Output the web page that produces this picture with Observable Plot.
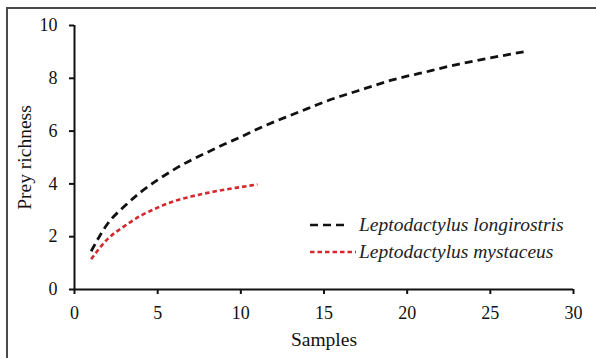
<!DOCTYPE html>
<html>
<head>
<meta charset="utf-8">
<script src="https://cdn.jsdelivr.net/npm/d3@7"></script>
<script src="https://cdn.jsdelivr.net/npm/@observablehq/plot@0.6"></script>
<style>
  html, body { margin: 0; padding: 0; background: #fff; }
  #wrap { position: relative; width: 596px; height: 358px; overflow: hidden; background: #fff; }
  #frame { position: absolute; left: 6px; top: 7px; right: -10px; bottom: -10px;
           border-left: 2px solid #4a4a4a; border-top: 2px solid #4a4a4a; pointer-events: none; }
  #legend { position: absolute; left: 309px; top: 211px; font-family: "Liberation Serif", "Times New Roman", serif;
            font-style: italic; font-size: 19.5px; color: #222; }
  #legend .row { display: flex; align-items: center; height: 27px; }
  #legend svg { margin-right: 3px; }
</style>
</head>
<body>
<div id="wrap">
  <div id="chart"></div>
  <div id="legend"></div>
  <div id="frame"></div>
</div>
<script>
// ---- data ----
const seriesNames = ["Leptodactylus longirostris", "Leptodactylus mystaceus"];
const seriesColors = ["#111111", "#d42a2f"];
const seriesDash = ["8,5", "4.5,3"];
const longirostrisSamples = [1,2,3,4,5,6,7,8,9,10,11,12,13,14,15,16,17,18,19,20,21,22,23,24,25,26,27];
const longirostrisRichness = [1.45,2.5,3.15,3.7,4.15,4.55,4.9,5.2,5.5,5.78,6.08,6.35,6.6,6.85,7.1,7.32,7.52,7.72,7.92,8.08,8.22,8.38,8.52,8.65,8.77,8.89,9.0];
const mystaceusSamples = [1,2,3,4,5,6,7,8,9,10,11];
const mystaceusRichness = [1.15,1.92,2.4,2.8,3.1,3.35,3.52,3.66,3.78,3.88,3.98];
const xTicks = [0,5,10,15,20,25,30];
const yTicks = [0,2,4,6,8,10];
const xLabel = "Samples";
const yLabel = "Prey richness";

const black = longirostrisSamples.map((s, i) => ({x: s, y: longirostrisRichness[i]}));
const red = mystaceusSamples.map((s, i) => ({x: s, y: mystaceusRichness[i]}));

const chart = Plot.plot({
  width: 596,
  height: 358,
  marginLeft: 74,
  marginRight: 23,
  marginTop: 25,
  marginBottom: 69,
  x: {domain: [0, 30]},
  y: {domain: [0, 10]},
  style: {fontFamily: "Liberation Serif, Times New Roman, serif", fontSize: "18px", color: "#111", background: "transparent"},
  marks: [
    Plot.axisX({ticks: xTicks, tickSize: 5, tickPadding: 12, strokeWidth: 2, label: null, fontSize: 18}),
    Plot.axisY({ticks: yTicks, tickSize: 5, tickPadding: 12, strokeWidth: 2, label: null, fontSize: 18}),
    Plot.ruleY([0], {stroke: "#111", strokeWidth: 2}),
    Plot.ruleX([0], {stroke: "#111", strokeWidth: 2}),
    Plot.line(black, {x: "x", y: "y", stroke: seriesColors[0], strokeWidth: 2.8, strokeDasharray: seriesDash[0], strokeLinecap: "butt", curve: "monotone-x"}),
    Plot.line(red, {x: "x", y: "y", stroke: seriesColors[1], strokeWidth: 2.6, strokeDasharray: seriesDash[1], strokeLinecap: "butt", curve: "monotone-x"}),
    Plot.text([xLabel], {frameAnchor: "bottom", lineAnchor: "middle", textAnchor: "middle", dy: 50, fontSize: 19.5, fill: "#111"}),
    Plot.text([yLabel], {frameAnchor: "left", lineAnchor: "middle", textAnchor: "middle", dx: -50, rotate: -90, fontSize: 19.5, fill: "#111"})
  ]
});
document.getElementById("chart").appendChild(chart);

// legend
const legend = document.getElementById("legend");
const lens = [36, 46];
seriesNames.forEach((name, i) => {
  const row = document.createElement("div");
  row.className = "row";
  const ns = "http://www.w3.org/2000/svg";
  const svg = document.createElementNS(ns, "svg");
  svg.setAttribute("width", 47);
  svg.setAttribute("height", 10);
  const ln = document.createElementNS(ns, "line");
  ln.setAttribute("x1", 1); ln.setAttribute("x2", 1 + lens[i]);
  ln.setAttribute("y1", 5); ln.setAttribute("y2", 5);
  ln.setAttribute("stroke", seriesColors[i]);
  ln.setAttribute("stroke-width", 2.6);
  ln.setAttribute("stroke-dasharray", seriesDash[i]);
  svg.appendChild(ln);
  row.appendChild(svg);
  const t = document.createElement("span");
  t.textContent = name;
  row.appendChild(t);
  legend.appendChild(row);
});
</script>
</body>
</html>
